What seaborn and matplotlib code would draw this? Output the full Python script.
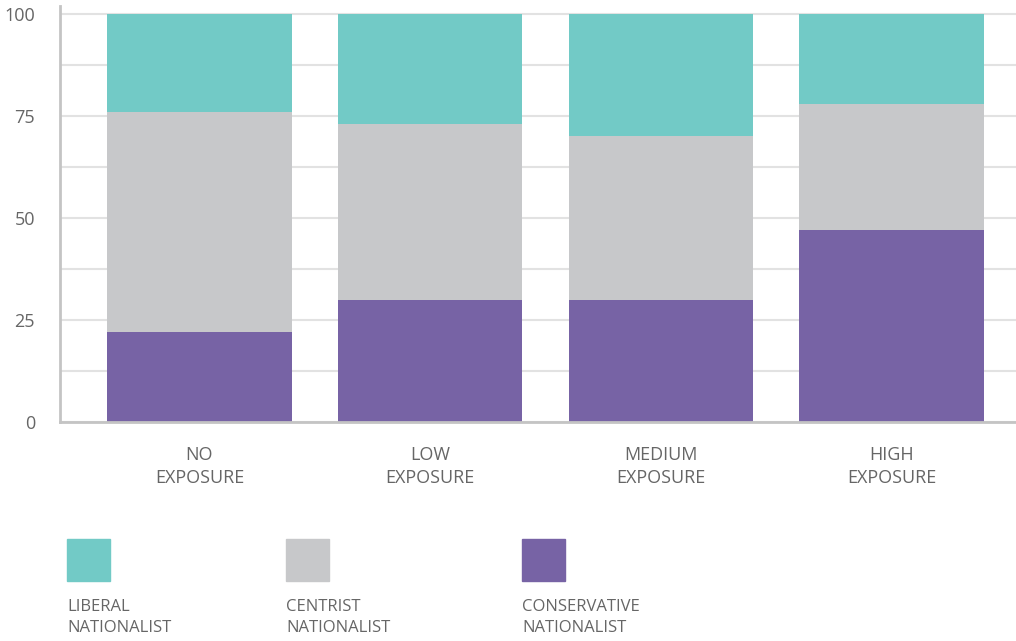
import pandas as pd
import numpy as np
import matplotlib.pyplot as plt
import seaborn as sns
from matplotlib.patches import Rectangle

exposure = ['NO\nEXPOSURE', 'LOW\nEXPOSURE', 'MEDIUM\nEXPOSURE', 'HIGH\nEXPOSURE']
conservative = [22, 30, 30, 47]
centrist = [54, 43, 40, 31]
liberal = [24, 27, 30, 22]

groups = ['LIBERAL\nNATIONALIST', 'CENTRIST\nNATIONALIST', 'CONSERVATIVE\nNATIONALIST']
cores = ['#72CAC6', '#C7C8CA', '#7763A5']
cinza_txt = '#666666'

df = pd.DataFrame({'exp': exposure, 'cons': conservative, 'cent': centrist, 'lib': liberal})
df['topo_cent'] = df['cons'] + df['cent']
df['topo_lib'] = df['topo_cent'] + df['lib']

sns.set_style('white')
plt.rcParams['font.family'] = ['Open Sans', 'DejaVu Sans']

fig = plt.figure(figsize=(10.16, 6.41), dpi=100)
ax = fig.add_axes([0.059, 0.3417, 0.941, 0.649])

# stacked bars: draw cumulative heights back to front
sns.barplot(data=df, x='exp', y='topo_lib', color=cores[0], width=0.8, saturation=1, ax=ax, zorder=2)
sns.barplot(data=df, x='exp', y='topo_cent', color=cores[1], width=0.8, saturation=1, ax=ax, zorder=2)
sns.barplot(data=df, x='exp', y='cons', color=cores[2], width=0.8, saturation=1, ax=ax, zorder=2)
for p in ax.patches:
    p.set_linewidth(0)

ax.set_xlim(-0.605, 3.54)
ax.set_ylim(0, 102)
ax.set_yticks([0, 25, 50, 75, 100])
ax.set_yticks(np.arange(12.5, 100, 25), minor=True)
ax.grid(True, which='both', axis='y', color='#e2e2e2', linewidth=1.5, zorder=0)
ax.set_axisbelow(True)
ax.tick_params(axis='both', which='both', length=0, labelsize=13, colors=cinza_txt)
ax.tick_params(axis='y', pad=18)
ax.tick_params(axis='x', pad=17)
for lbl in ax.get_xticklabels():
    lbl.set_linespacing(1.4)
ax.set_xlabel('')
ax.set_ylabel('')
sns.despine(ax=ax, top=True, right=True)
for s in ['left', 'bottom']:
    ax.spines[s].set_color('#c4c4c4')
    ax.spines[s].set_linewidth(2)

# legend built by hand under the axes
W, H = 1016, 641
for x0, g, c in zip([67, 286, 522], groups, cores):
    fig.patches.append(Rectangle((x0 / W, (H - 581) / H), 43 / W, 42 / H,
                                 transform=fig.transFigure, color=c, figure=fig))
    fig.text(x0 / W, (H - 599) / H, g, ha='left', va='top', fontsize=12,
             color=cinza_txt, linespacing=1.45)

plt.savefig('out.png', dpi=100)
